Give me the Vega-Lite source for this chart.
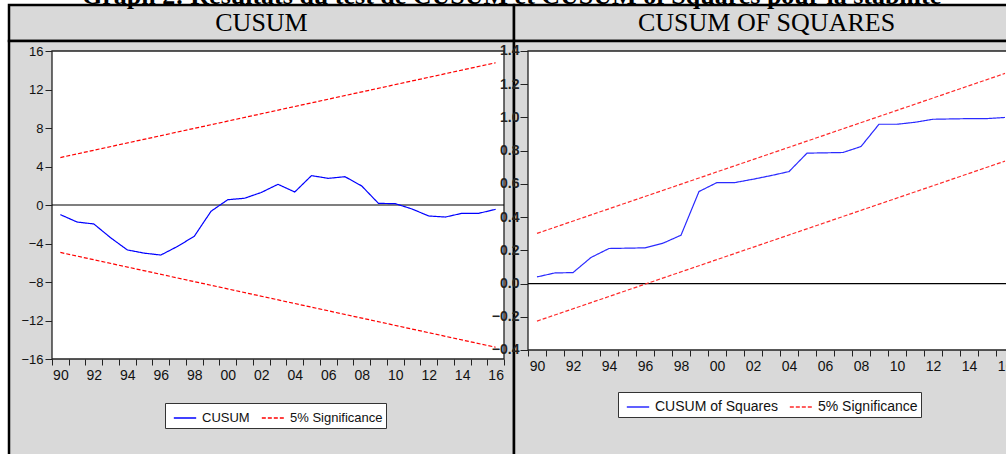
{
  "$schema": "https://vega.github.io/schema/vega-lite/v6.json",
  "background": "white",
  "padding": {"left": 7, "top": -18, "right": 0, "bottom": 0},
  "title": {"text": "Graph 2: Résultats du test de CUSUM et CUSUM of Squares pour la stabilité", "font": "Liberation Serif", "fontSize": 26, "fontWeight": "bold", "color": "black", "anchor": "start", "dx": 73, "offset": -5, "frame": "group"},
  "bounds": "flush",
  "spacing": 0,
  "resolve": {"scale": {"color": "independent", "strokeDash": "independent"}, "legend": {"color": "independent", "strokeDash": "independent"}},
  "datasets": {
    "cusum": [
      {"year": 1990, "value": -1.0, "series": "CUSUM", "line": "stat"},
      {"year": 1991, "value": -1.77, "series": "CUSUM", "line": "stat"},
      {"year": 1992, "value": -1.97, "series": "CUSUM", "line": "stat"},
      {"year": 1993, "value": -3.4, "series": "CUSUM", "line": "stat"},
      {"year": 1994, "value": -4.67, "series": "CUSUM", "line": "stat"},
      {"year": 1995, "value": -5.0, "series": "CUSUM", "line": "stat"},
      {"year": 1996, "value": -5.2, "series": "CUSUM", "line": "stat"},
      {"year": 1997, "value": -4.3, "series": "CUSUM", "line": "stat"},
      {"year": 1998, "value": -3.25, "series": "CUSUM", "line": "stat"},
      {"year": 1999, "value": -0.65, "series": "CUSUM", "line": "stat"},
      {"year": 2000, "value": 0.55, "series": "CUSUM", "line": "stat"},
      {"year": 2001, "value": 0.7, "series": "CUSUM", "line": "stat"},
      {"year": 2002, "value": 1.3, "series": "CUSUM", "line": "stat"},
      {"year": 2003, "value": 2.15, "series": "CUSUM", "line": "stat"},
      {"year": 2004, "value": 1.35, "series": "CUSUM", "line": "stat"},
      {"year": 2005, "value": 3.05, "series": "CUSUM", "line": "stat"},
      {"year": 2006, "value": 2.77, "series": "CUSUM", "line": "stat"},
      {"year": 2007, "value": 2.94, "series": "CUSUM", "line": "stat"},
      {"year": 2008, "value": 1.98, "series": "CUSUM", "line": "stat"},
      {"year": 2009, "value": 0.17, "series": "CUSUM", "line": "stat"},
      {"year": 2010, "value": 0.14, "series": "CUSUM", "line": "stat"},
      {"year": 2011, "value": -0.41, "series": "CUSUM", "line": "stat"},
      {"year": 2012, "value": -1.14, "series": "CUSUM", "line": "stat"},
      {"year": 2013, "value": -1.25, "series": "CUSUM", "line": "stat"},
      {"year": 2014, "value": -0.86, "series": "CUSUM", "line": "stat"},
      {"year": 2015, "value": -0.86, "series": "CUSUM", "line": "stat"},
      {"year": 2016, "value": -0.45, "series": "CUSUM", "line": "stat"},
      {"year": 1990, "value": 4.93, "series": "5% Significance", "line": "upper"},
      {"year": 2016, "value": 14.78, "series": "5% Significance", "line": "upper"},
      {"year": 1990, "value": -4.93, "series": "5% Significance", "line": "lower"},
      {"year": 2016, "value": -14.78, "series": "5% Significance", "line": "lower"}
    ],
    "cusumsq": [
      {"year": 1990, "value": 0.040, "series": "CUSUM of Squares", "line": "stat"},
      {"year": 1991, "value": 0.064, "series": "CUSUM of Squares", "line": "stat"},
      {"year": 1992, "value": 0.066, "series": "CUSUM of Squares", "line": "stat"},
      {"year": 1993, "value": 0.157, "series": "CUSUM of Squares", "line": "stat"},
      {"year": 1994, "value": 0.211, "series": "CUSUM of Squares", "line": "stat"},
      {"year": 1995, "value": 0.213, "series": "CUSUM of Squares", "line": "stat"},
      {"year": 1996, "value": 0.215, "series": "CUSUM of Squares", "line": "stat"},
      {"year": 1997, "value": 0.243, "series": "CUSUM of Squares", "line": "stat"},
      {"year": 1998, "value": 0.291, "series": "CUSUM of Squares", "line": "stat"},
      {"year": 1999, "value": 0.554, "series": "CUSUM of Squares", "line": "stat"},
      {"year": 2000, "value": 0.608, "series": "CUSUM of Squares", "line": "stat"},
      {"year": 2001, "value": 0.608, "series": "CUSUM of Squares", "line": "stat"},
      {"year": 2002, "value": 0.628, "series": "CUSUM of Squares", "line": "stat"},
      {"year": 2003, "value": 0.650, "series": "CUSUM of Squares", "line": "stat"},
      {"year": 2004, "value": 0.674, "series": "CUSUM of Squares", "line": "stat"},
      {"year": 2005, "value": 0.785, "series": "CUSUM of Squares", "line": "stat"},
      {"year": 2006, "value": 0.787, "series": "CUSUM of Squares", "line": "stat"},
      {"year": 2007, "value": 0.789, "series": "CUSUM of Squares", "line": "stat"},
      {"year": 2008, "value": 0.825, "series": "CUSUM of Squares", "line": "stat"},
      {"year": 2009, "value": 0.959, "series": "CUSUM of Squares", "line": "stat"},
      {"year": 2010, "value": 0.959, "series": "CUSUM of Squares", "line": "stat"},
      {"year": 2011, "value": 0.971, "series": "CUSUM of Squares", "line": "stat"},
      {"year": 2012, "value": 0.989, "series": "CUSUM of Squares", "line": "stat"},
      {"year": 2013, "value": 0.991, "series": "CUSUM of Squares", "line": "stat"},
      {"year": 2014, "value": 0.993, "series": "CUSUM of Squares", "line": "stat"},
      {"year": 2015, "value": 0.993, "series": "CUSUM of Squares", "line": "stat"},
      {"year": 2016, "value": 1.0, "series": "CUSUM of Squares", "line": "stat"},
      {"year": 1990, "value": 0.302, "series": "5% Significance", "line": "upper"},
      {"year": 2016, "value": 1.265, "series": "5% Significance", "line": "upper"},
      {"year": 1990, "value": -0.226, "series": "5% Significance", "line": "lower"},
      {"year": 2016, "value": 0.737, "series": "5% Significance", "line": "lower"}
    ]
  },
  "vconcat": [
    {
      "width": 1010,
      "height": 36,
      "data": {"values": [{"panel": "CUSUM"}, {"panel": "CUSUM OF SQUARES"}]},
      "view": {"stroke": null},
      "layer": [
        {
          "mark": {"type": "rect", "fill": "#d9d9d9", "stroke": "black", "strokeWidth": 2.5},
          "encoding": {"x": {"field": "panel", "type": "nominal", "sort": null, "axis": null, "scale": {"paddingInner": 0, "paddingOuter": 0}}}
        },
        {
          "mark": {"type": "text", "font": "Liberation Serif", "fontSize": 26, "color": "black", "baseline": "middle"},
          "encoding": {"x": {"field": "panel", "type": "nominal", "sort": null, "axis": null}, "text": {"field": "panel"}}
        }
      ]
    },
    {
      "hconcat": [
        {
          "width": 505,
          "height": 420,
          "view": {"fill": "#d9d9d9", "stroke": "black", "strokeWidth": 2.5},
          "resolve": {"axis": {"x": "independent"}},
          "layer": [
            {
              "data": {"values": [{}]},
              "mark": {"type": "rect", "fill": "white", "stroke": "#222", "strokeWidth": 1.3},
              "encoding": {
                "x": {"datum": 1989.5, "type": "quantitative",
                  "scale": {"domain": [1986.9314, 2017.0973], "nice": false, "zero": false},
                  "axis": {"orient": "bottom", "offset": -102, "title": null,
                    "values": [1989.5, 1990.5, 1991.5, 1992.5, 1993.5, 1994.5, 1995.5, 1996.5, 1997.5, 1998.5, 1999.5, 2000.5, 2001.5, 2002.5, 2003.5, 2004.5, 2005.5, 2006.5, 2007.5, 2008.5, 2009.5, 2010.5, 2011.5, 2012.5, 2013.5, 2014.5, 2015.5, 2016.5],
                    "labels": false, "tickSize": 6, "tickColor": "#222", "domain": false, "grid": false}},
                "x2": {"datum": 2016.5},
                "y": {"datum": -16, "type": "quantitative",
                  "scale": {"domain": [-26.5974, 17.039], "nice": false, "zero": false},
                  "axis": {"orient": "left", "offset": -43, "title": null,
                    "values": [-16, -12, -8, -4, 0, 4, 8, 12, 16],
                    "tickSize": 7, "tickColor": "#222", "domain": false, "grid": false,
                    "labelFont": "Liberation Sans", "labelFontSize": 13, "labelColor": "#111", "labelPadding": 2,
                    "labelOverlap": false, "labelFlush": false, "labelBound": false}},
                "y2": {"datum": 16}
              }
            },
            {
              "data": {"values": [{}]},
              "mark": {"type": "rule", "color": "black", "strokeWidth": 1.2},
              "encoding": {
                "x": {"datum": 1989.5, "type": "quantitative", "axis": null},
                "x2": {"datum": 2016.5},
                "y": {"datum": 0, "type": "quantitative"}
              }
            },
            {
              "data": {"name": "cusum"},
              "mark": {"type": "line", "strokeWidth": 1.2},
              "encoding": {
                "x": {"field": "year", "type": "quantitative",
                  "axis": {"orient": "bottom", "offset": -102, "title": null,
                    "values": [1990, 1992, 1994, 1996, 1998, 2000, 2002, 2004, 2006, 2008, 2010, 2012, 2014, 2016],
                    "labelExpr": "slice(toString(datum.value), 2)",
                    "ticks": false, "domain": false, "grid": false,
                    "labelFont": "Liberation Sans", "labelFontSize": 14, "labelColor": "#111", "labelPadding": 9,
                    "labelOverlap": false, "labelFlush": false, "labelBound": false}},
                "y": {"field": "value", "type": "quantitative", "axis": {"title": null}},
                "detail": {"field": "line"},
                "color": {"field": "series", "type": "nominal",
                  "scale": {"domain": ["CUSUM", "5% Significance"], "range": ["#0000ff", "#ff0000"]},
                  "legend": {"orient": "none", "legendX": 156, "legendY": 362, "direction": "horizontal", "title": null,
                    "fillColor": "white", "strokeColor": "#333", "padding": 3, "symbolOffset": 5, "symbolType": "stroke", "symbolSize": 500,
                    "symbolStrokeWidth": 1.3, "labelFont": "Liberation Sans", "labelFontSize": 13, "labelColor": "#111",
                    "columnPadding": 6, "labelOffset": 5}},
                "strokeDash": {"field": "series", "type": "nominal",
                  "scale": {"domain": ["CUSUM", "5% Significance"], "range": [[1, 0], [4, 2]]},
                  "legend": {"orient": "none", "legendX": 156, "legendY": 362, "direction": "horizontal", "title": null,
                    "fillColor": "white", "strokeColor": "#333", "padding": 3, "symbolOffset": 5, "symbolType": "stroke", "symbolSize": 500,
                    "symbolStrokeWidth": 1.3, "labelFont": "Liberation Sans", "labelFontSize": 13, "labelColor": "#111",
                    "columnPadding": 6, "labelOffset": 5}}
              }
            }
          ]
        },
        {
          "width": 505,
          "height": 420,
          "view": {"fill": "#d9d9d9", "stroke": "black", "strokeWidth": 2.5},
          "resolve": {"axis": {"x": "independent"}},
          "layer": [
            {
              "data": {"values": [{}]},
              "mark": {"type": "rect", "fill": "white", "stroke": "#222", "strokeWidth": 1.3},
              "encoding": {
                "x": {"datum": 1989.5, "type": "quantitative",
                  "scale": {"domain": [1988.7222, 2016.7778], "nice": false, "zero": false},
                  "axis": {"orient": "bottom", "offset": -111, "title": null,
                    "values": [1989.5, 1990.5, 1991.5, 1992.5, 1993.5, 1994.5, 1995.5, 1996.5, 1997.5, 1998.5, 1999.5, 2000.5, 2001.5, 2002.5, 2003.5, 2004.5, 2005.5, 2006.5, 2007.5, 2008.5, 2009.5, 2010.5, 2011.5, 2012.5, 2013.5, 2014.5, 2015.5, 2016.5],
                    "labels": false, "tickSize": 6, "tickColor": "#222", "domain": false, "grid": false}},
                "x2": {"datum": 2016.5},
                "y": {"datum": -0.4, "type": "quantitative",
                  "scale": {"domain": [-1.06823, 1.4602], "nice": false, "zero": false},
                  "axis": {"orient": "left", "offset": -14, "title": null,
                    "values": [-0.4, -0.2, 0, 0.2, 0.4, 0.6, 0.8, 1.0, 1.2, 1.4], "format": ".1f",
                    "tickSize": 8, "tickColor": "#222", "domain": false, "grid": false,
                    "labelFont": "Liberation Sans", "labelFontSize": 14, "labelFontWeight": "bold", "labelColor": "#222", "labelPadding": 1,
                    "labelOverlap": false, "labelFlush": false, "labelBound": false}},
                "y2": {"datum": 1.4}
              }
            },
            {
              "data": {"values": [{}]},
              "mark": {"type": "rule", "color": "black", "strokeWidth": 1.2},
              "encoding": {
                "x": {"datum": 1989.5, "type": "quantitative", "axis": null},
                "x2": {"datum": 2016.5},
                "y": {"datum": 0, "type": "quantitative"}
              }
            },
            {
              "data": {"name": "cusumsq"},
              "mark": {"type": "line", "strokeWidth": 1.2},
              "encoding": {
                "x": {"field": "year", "type": "quantitative",
                  "axis": {"orient": "bottom", "offset": -111, "title": null,
                    "values": [1990, 1992, 1994, 1996, 1998, 2000, 2002, 2004, 2006, 2008, 2010, 2012, 2014, 2016],
                    "labelExpr": "slice(toString(datum.value), 2)",
                    "ticks": false, "domain": false, "grid": false,
                    "labelFont": "Liberation Sans", "labelFontSize": 14, "labelColor": "#111", "labelPadding": 9,
                    "labelOverlap": false, "labelFlush": false, "labelBound": false}},
                "y": {"field": "value", "type": "quantitative", "axis": {"title": null}},
                "detail": {"field": "line"},
                "color": {"field": "series", "type": "nominal",
                  "scale": {"domain": ["CUSUM of Squares", "5% Significance"], "range": ["#2a2aff", "#ff2a2a"]},
                  "legend": {"orient": "none", "legendX": 104, "legendY": 351, "direction": "horizontal", "title": null,
                    "fillColor": "white", "strokeColor": "#333", "padding": 3, "symbolOffset": 5, "symbolType": "stroke", "symbolSize": 500,
                    "symbolStrokeWidth": 1.3, "labelFont": "Liberation Sans", "labelFontSize": 14, "labelColor": "#111",
                    "columnPadding": 6, "labelOffset": 5}},
                "strokeDash": {"field": "series", "type": "nominal",
                  "scale": {"domain": ["CUSUM of Squares", "5% Significance"], "range": [[1, 0], [4, 2]]},
                  "legend": {"orient": "none", "legendX": 104, "legendY": 351, "direction": "horizontal", "title": null,
                    "fillColor": "white", "strokeColor": "#333", "padding": 3, "symbolOffset": 5, "symbolType": "stroke", "symbolSize": 500,
                    "symbolStrokeWidth": 1.3, "labelFont": "Liberation Sans", "labelFontSize": 14, "labelColor": "#111",
                    "columnPadding": 6, "labelOffset": 5}}
              }
            }
          ]
        }
      ],
      "spacing": 0,
      "bounds": "flush",
      "resolve": {"scale": {"color": "independent", "strokeDash": "independent", "x": "independent", "y": "independent"}, "legend": {"color": "independent", "strokeDash": "independent"}}
    }
  ]
}
